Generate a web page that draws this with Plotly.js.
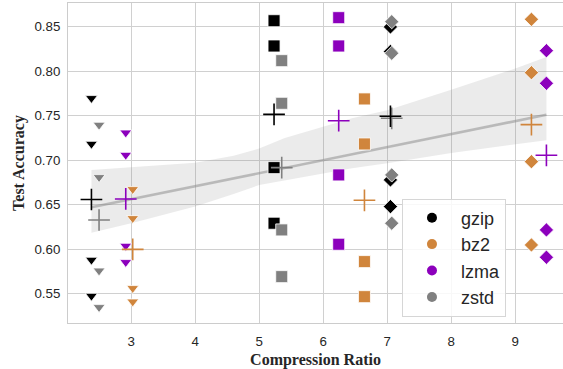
<!DOCTYPE html>
<html>
<head>
<meta charset="utf-8">
<script src="https://cdn.plot.ly/plotly-3.0.1.min.js"></script>
<style>
  html, body { margin: 0; padding: 0; background: #ffffff; }
  #chart { width: 563px; height: 369px; }
</style>
</head>
<body>
<div id="chart"></div>
<script>
// Compressors, in legend order
const compressors = ['gzip', 'bz2', 'lzma', 'zstd'];

// Compression ratio of each compressor on the three corpora
const ratio_gzip = [2.380, 5.232, 7.050];
const ratio_bz2  = [3.025, 6.644, 9.252];
const ratio_lzma = [2.916, 6.242, 9.486];
const ratio_zstd = [2.499, 5.352, 7.070];

// Test accuracy: four runs per corpus
const acc_gzip = [[0.7696, 0.7182, 0.5879, 0.5474],
                  [0.8567, 0.8283, 0.6916, 0.6291],
                  [0.8497, 0.8221, 0.6778, 0.6478]];
const acc_bz2  = [[0.6673, 0.6347, 0.5561, 0.5410],
                  [0.7688, 0.7182, 0.5860, 0.5466],
                  [0.8583, 0.7983, 0.6983, 0.6047]];
const acc_lzma = [[0.7309, 0.7058, 0.6036, 0.5853],
                  [0.8601, 0.8283, 0.6834, 0.6055],
                  [0.8230, 0.7864, 0.6216, 0.5909]];
const acc_zstd = [[0.7396, 0.6808, 0.5758, 0.5347],
                  [0.8118, 0.7639, 0.6216, 0.5691],
                  [0.8556, 0.8201, 0.6834, 0.6291]];

// 95% confidence band of the fit
const ci_x    = [2.380, 3.0, 4.0, 4.6, 5.0, 5.4, 6.0, 6.45, 7.0, 8.0, 9.0, 9.486];
const ci_high = [0.689, 0.692, 0.697, 0.705, 0.713, 0.725, 0.738, 0.747, 0.756, 0.779, 0.803, 0.816];
const ci_low  = [0.6185, 0.629, 0.648, 0.662, 0.672, 0.677, 0.685, 0.691, 0.6965, 0.708, 0.718, 0.7225];

// Axis ticks
const x_ticks = [3, 4, 5, 6, 7, 8, 9];
const y_ticks = [0.55, 0.60, 0.65, 0.70, 0.75, 0.80, 0.85];

// ---- styling ----
const colors = { gzip: '#000000', bz2: '#d0853c', lzma: '#8c00bc', zstd: '#808080' };
const corpusSymbols = ['triangle-down', 'square', 'diamond'];
const corpusSizes = [10.5, 12, 11];
const sans = 'Liberation Sans, Arial, sans-serif';
const serif = 'Liberation Serif, Times New Roman, serif';

const ratios = { gzip: ratio_gzip, bz2: ratio_bz2, lzma: ratio_lzma, zstd: ratio_zstd };
const accs = { gzip: acc_gzip, bz2: acc_bz2, lzma: acc_lzma, zstd: acc_zstd };

const traces = [];

// Confidence band
traces.push({
  x: ci_x.concat(ci_x.slice().reverse()),
  y: ci_high.concat(ci_low.slice().reverse()),
  mode: 'lines', fill: 'toself',
  fillcolor: 'rgba(128,128,128,0.16)',
  line: { width: 0 }, hoverinfo: 'skip', showlegend: false
});

// Least-squares fit over every run
const allX = [], allY = [];
compressors.forEach(c => {
  ratios[c].forEach((r, i) => accs[c][i].forEach(a => { allX.push(r); allY.push(a); }));
});
const n = allX.length;
const mx = allX.reduce((s, v) => s + v, 0) / n;
const my = allY.reduce((s, v) => s + v, 0) / n;
let sxy = 0, sxx = 0;
for (let i = 0; i < n; i++) { sxy += (allX[i] - mx) * (allY[i] - my); sxx += (allX[i] - mx) ** 2; }
const slope = sxy / sxx, intercept = my - slope * mx;
const xmin = Math.min(...allX), xmax = Math.max(...allX);
traces.push({
  x: [xmin, xmax], y: [intercept + slope * xmin, intercept + slope * xmax],
  mode: 'lines', line: { color: 'rgba(140,140,140,0.52)', width: 2.6 },
  hoverinfo: 'skip', showlegend: false
});

// Individual runs
compressors.forEach(c => {
  const xs = [], ys = [], sym = [], sz = [];
  ratios[c].forEach((r, i) => accs[c][i].forEach(a => {
    xs.push(r); ys.push(a); sym.push(corpusSymbols[i]); sz.push(corpusSizes[i]);
  }));
  traces.push({
    x: xs, y: ys, mode: 'markers', name: c, showlegend: false,
    marker: { color: colors[c], opacity: 1, symbol: sym, size: sz, line: { color: '#ffffff', width: 0.8 } }
  });
});

// Mean accuracy per compressor and corpus
['zstd', 'gzip', 'bz2', 'lzma'].forEach(c => {
  const xs = ratios[c];
  const ys = accs[c].map(runs => runs.reduce((s, v) => s + v, 0) / runs.length);
  traces.push({
    x: xs, y: ys, mode: 'markers', showlegend: false,
    marker: { symbol: 'cross-thin', size: 15.5, opacity: 1, color: colors[c], line: { color: colors[c], width: 1.6 } }
  });
});

// Legend entries
compressors.forEach(c => {
  traces.push({
    x: [null], y: [null], mode: 'markers', name: c,
    marker: { symbol: 'circle', size: 10, color: colors[c] }
  });
});

const layout = {
  width: 563, height: 369,
  margin: { l: 68, r: 0, t: 3, b: 46 },
  paper_bgcolor: '#ffffff', plot_bgcolor: '#ffffff',
  font: { family: sans, color: '#262626' },
  xaxis: {
    range: [2.014, 9.745], tickvals: x_ticks, ticks: '',
    showgrid: true, gridcolor: '#d0d0d0', gridwidth: 1, zeroline: false,
    showline: true, linecolor: '#cccccc', linewidth: 1, mirror: true,
    tickfont: { family: sans, size: 13.3, color: '#262626' },
    ticklabelstandoff: 6,
    title: { text: 'Compression Ratio', font: { family: serif, size: 16, weight: 'bold', color: '#262626' }, standoff: 6 }
  },
  yaxis: {
    range: [0.517, 0.8766], tickvals: y_ticks, tickformat: '.2f', ticks: '',
    showgrid: true, gridcolor: '#d0d0d0', gridwidth: 1, zeroline: false,
    showline: true, linecolor: '#cccccc', linewidth: 1, mirror: false,
    tickfont: { family: sans, size: 13.3, color: '#262626' },
    ticklabelstandoff: 4,
    title: { text: 'Test Accuracy', font: { family: serif, size: 16, weight: 'bold', color: '#262626' }, standoff: 5 }
  },
  legend: {
    x: 0.6747, y: 0.389, xanchor: 'left', yanchor: 'top',
    bgcolor: 'rgba(255,255,255,0.85)', bordercolor: '#d6d6d6', borderwidth: 1,
    font: { family: sans, size: 18, color: '#262626' },
    itemwidth: 48, tracegroupgap: 0
  },
  showlegend: true
};

Plotly.newPlot('chart', traces, layout, { displayModeBar: false, staticPlot: true });
</script>
</body>
</html>
